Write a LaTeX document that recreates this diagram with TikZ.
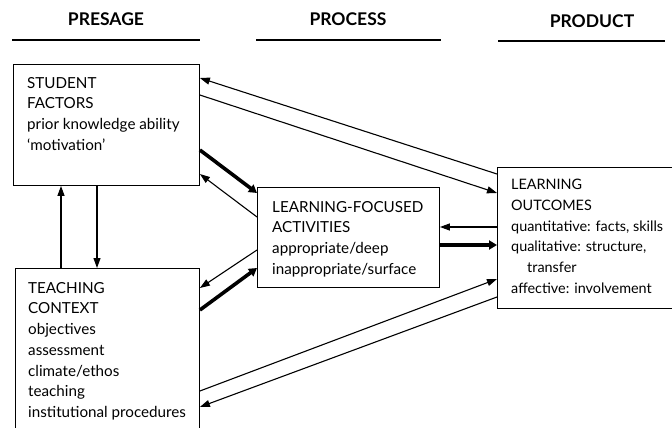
\documentclass[tikz,border=0pt]{standalone}
\usepackage{fontspec}
\setmainfont{Lato}
\usetikzlibrary{arrows.meta}
\begin{document}
\begin{tikzpicture}[x=1pt,y=-1pt,
  box/.style={draw, line width=0.9pt, inner sep=0pt, anchor=north west},
  txt/.style={anchor=north west, inner sep=0pt, align=left, font=\fontsize{15.2}{20.7}\selectfont},
  hdr/.style={font=\fontsize{17.5}{20}\selectfont\bfseries, anchor=base, inner sep=0pt},
  rule/.style={line width=1.2pt},
  thinarrow/.style={line width=1.1pt, -{Triangle[length=10pt,width=7pt]}},
  thickarrow/.style={line width=3.6pt, -{Triangle[length=8pt,width=9pt]}}]
\useasboundingbox (0,0) rectangle (672,428);
% headers
\node[hdr] (h1) at (106,26) {PRESAGE};
\node[hdr] (h2) at (348,26) {PROCESS};
\node[hdr] (h3) at (592,28) {PRODUCT};
\draw[rule] (12,40) -- (200,40);
\draw[rule] (256,40) -- (441,40);
\draw[rule] (498,41) -- (665,41);
% boxes
\node[box, minimum width=186pt, minimum height=121pt] (sf) at (13,64) {};
\node[box, minimum width=184pt, minimum height=166pt] (tc) at (15,268) {};
\node[box, minimum width=182pt, minimum height=100pt] (lfa) at (257,187) {};
\node[box, minimum width=180pt, minimum height=141pt] (lo) at (497,167) {};
% texts
\node[txt] (sft) at (27,77) {STUDENT\\FACTORS\\prior knowledge ability\\`motivation'};
\node[txt] (tct) at (28,282) {TEACHING\\CONTEXT\\objectives\\assessment\\climate/ethos\\teaching\\institutional procedures};
\node[txt] (lfat) at (272,201) {LEARNING-FOCUSED\\ACTIVITIES\\appropriate/deep\\inappropriate/surface};
\node[txt, font=\fontsize{14.4}{20.7}\selectfont] (lot) at (511,179) {LEARNING\\OUTCOMES\\quantitative: facts, skills\\qualitative: structure,\\\hspace*{16pt}transfer\\affective: involvement};
% connectors
\draw[thinarrow] (lo.west |- 0,174) -- (sf.east |- 0,78);
\draw[thinarrow] (sf.east |- 0,95) -- (lo.west |- 0,193);
\draw[thickarrow] (sf.east |- 0,150) -- (lfa.west |- 0,193);
\draw[thinarrow] (lfa.west |- 0,217) -- (sf.east |- 0,174);
\draw[thinarrow] (lfa.west |- 0,250) -- (tc.east |- 0,288);
\draw[thickarrow] (tc.east |- 0,310) -- (lfa.west |- 0,268);
\draw[thinarrow] (lo.west |- 0,227) -- (lfa.east |- 0,227);
\draw[thickarrow] (lfa.east |- 0,245) -- (lo.west |- 0,245);
\draw[thinarrow] (tc.east |- 0,391) -- (lo.west |- 0,279);
\draw[thinarrow] (lo.west |- 0,297) -- (tc.east |- 0,407);
\draw[thinarrow] (sf.south -| 97,0) -- (tc.north -| 97,0);
\draw[thinarrow] (tc.north -| 61,0) -- (sf.south -| 61,0);
\end{tikzpicture}
\end{document}
